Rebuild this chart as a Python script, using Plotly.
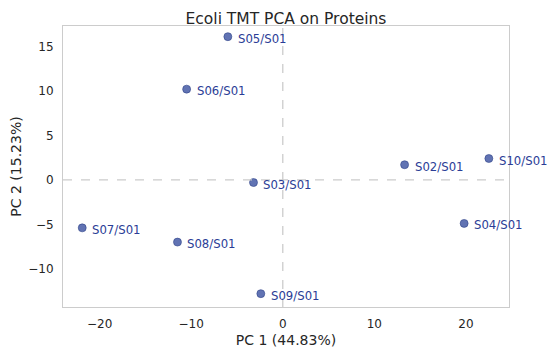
import plotly.graph_objects as go

samples = ["S05/S01", "S06/S01", "S03/S01", "S02/S01", "S10/S01",
           "S04/S01", "S07/S01", "S08/S01", "S09/S01"]
pc1 = [-6.0, -10.5, -3.2, 13.3, 22.5, 19.8, -21.9, -11.5, -2.4]
pc2 = [16.1, 10.2, -0.3, 1.7, 2.4, -4.9, -5.4, -7.0, -12.8]

fig = go.Figure()
fig.add_trace(go.Scatter(
    x=pc1, y=pc2, mode="markers",
    marker=dict(size=8, color="rgba(58,80,160,0.8)", line=dict(width=0.6, color="rgba(40,60,130,0.9)")),
    hoverinfo="skip", showlegend=False, cliponaxis=False,
))
for s, x, y in zip(samples, pc1, pc2):
    fig.add_annotation(x=x, y=y, text=s, showarrow=False, xanchor="left",
                       yanchor="middle", xshift=8, yshift=-2,
                       font=dict(family="DejaVu Sans", size=11.7, color="#2a3d96"))

fig.add_hline(y=0, line=dict(color="#cccccc", width=1.3, dash="dash"))
fig.add_vline(x=0, line=dict(color="#cccccc", width=1.3, dash="dash"))

axis_common = dict(showgrid=False, zeroline=False, showline=True, mirror=True,
                   linecolor="#cccccc", linewidth=1, ticks="",
                   tickfont=dict(family="DejaVu Sans", size=12, color="#262626"))
fig.update_xaxes(range=[-24.0, 24.7], tickvals=[-20, -10, 0, 10, 20],
                 ticktext=["\u221220", "\u221210", "0", "10", "20"],
                 ticklabelstandoff=6,
                 title=dict(text="PC 1 (44.83%)", font=dict(family="DejaVu Sans", size=14, color="#262626"), standoff=4),
                 **axis_common)
fig.update_yaxes(range=[-14.3, 17.3], tickvals=[-10, -5, 0, 5, 10, 15],
                 ticktext=["\u221210", "\u22125", "0", "5", "10", "15"],
                 ticklabelstandoff=6,
                 title=dict(text="PC 2 (15.23%)", font=dict(family="DejaVu Sans", size=14, color="#262626"), standoff=5),
                 **axis_common)
fig.update_layout(
    width=555, height=355,
    margin=dict(l=55, r=54, t=18, b=56, autoexpand=False),
    paper_bgcolor="white", plot_bgcolor="white",
    title=dict(text="Ecoli TMT PCA on Proteins", x=0.5, xref="paper", xanchor="center",
               y=1, yref="paper", yanchor="bottom", pad=dict(b=2),
               font=dict(family="DejaVu Sans", size=15.5, color="#262626")),
)
fig.write_html("out.html")
